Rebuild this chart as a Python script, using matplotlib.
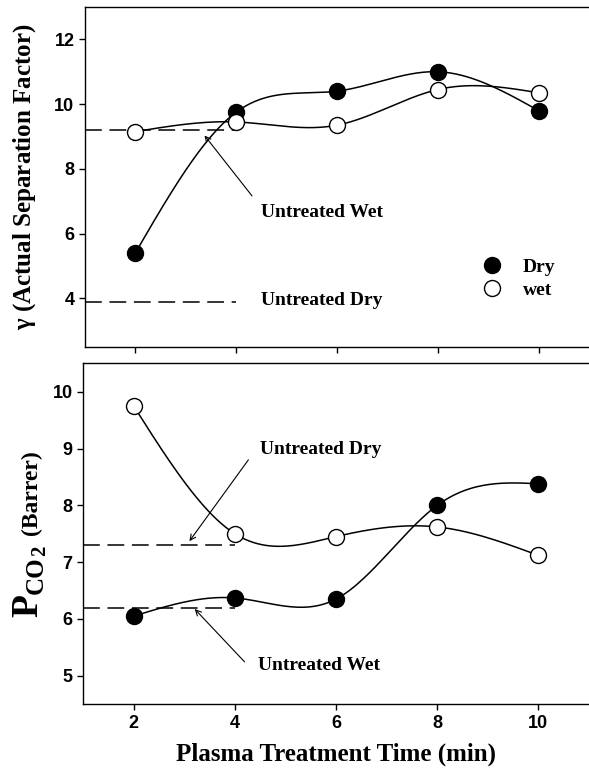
import matplotlib
matplotlib.use('Agg')
import matplotlib.pyplot as plt
import numpy as np

plt.rcParams['font.family'] = ['Liberation Serif', 'DejaVu Serif']
plt.rcParams['mathtext.fontset'] = 'custom'
plt.rcParams['mathtext.rm'] = 'Liberation Serif:bold'
plt.rcParams['mathtext.bf'] = 'Liberation Serif:bold'
plt.rcParams['mathtext.it'] = 'Liberation Serif:bold'

# data
time_min = [2, 4, 6, 8, 10]
gamma_dry = [5.4, 9.75, 10.4, 11.0, 9.8]
gamma_wet = [9.15, 9.45, 9.35, 10.45, 10.35]
gamma_untreated_wet = 9.2
gamma_untreated_dry = 3.9

pco2_dry = [6.05, 6.37, 6.35, 8.0, 8.38]
pco2_wet = [9.75, 7.5, 7.45, 7.62, 7.12]
pco2_untreated_dry = 7.3
pco2_untreated_wet = 6.2

DASH = (0, (11, 5))


def spline(x, y, n=200):
    # natural cubic spline through the points (SigmaPlot-like smooth line)
    x = np.asarray(x, float)
    y = np.asarray(y, float)
    k = len(x)
    h = np.diff(x)
    A = np.zeros((k, k))
    b = np.zeros(k)
    A[0, 0] = A[-1, -1] = 1
    for i in range(1, k - 1):
        A[i, i - 1] = h[i - 1]
        A[i, i] = 2 * (h[i - 1] + h[i])
        A[i, i + 1] = h[i]
        b[i] = 6 * ((y[i + 1] - y[i]) / h[i] - (y[i] - y[i - 1]) / h[i - 1])
    m = np.linalg.solve(A, b)
    xs = np.linspace(x[0], x[-1], n)
    idx = np.clip(np.searchsorted(x, xs) - 1, 0, k - 2)
    x0, x1 = x[idx], x[idx + 1]
    hh = x1 - x0
    t0, t1 = x1 - xs, xs - x0
    ys = (m[idx] * t0 ** 3 + m[idx + 1] * t1 ** 3) / (6 * hh) \
        + (y[idx] / hh - m[idx] * hh / 6) * t0 + (y[idx + 1] / hh - m[idx + 1] * hh / 6) * t1
    return xs, ys


def style_axes(ax):
    ax.spines['right'].set_visible(False)
    for s in ['left', 'bottom', 'top']:
        ax.spines[s].set_linewidth(1.0)
    ax.tick_params(direction='out', length=4, width=1)
    ax.set_xlim(1, 11)
    ax.set_xticks([2, 4, 6, 8, 10])


def draw_series(ax, x, y, filled, label):
    xs, ys = spline(x, y)
    ax.plot(xs, ys, color='black', linewidth=1.1, zorder=2)
    ax.plot(x, y, linestyle='none', marker='o', markersize=11.5,
            markerfacecolor='black' if filled else 'white',
            markeredgecolor='black', markeredgewidth=1.0, zorder=3, label=label)


def annotate(ax, text, xy, xytext, textpos):
    ax.annotate('', xy=xy, xytext=xytext,
                arrowprops=dict(arrowstyle='->', color='black', linewidth=0.8))
    ax.text(textpos[0], textpos[1], text, fontsize=14, fontweight='bold', ha='left', va='center')


fig = plt.figure(figsize=(5.89, 7.73), dpi=100)
ax1 = fig.add_axes([0.144, 0.551, 0.856, 0.44])
ax2 = fig.add_axes([0.141, 0.089, 0.859, 0.441])

# top panel: separation factor
style_axes(ax1)
ax1.set_ylim(2.5, 13)
ax1.set_yticks([4, 6, 8, 10, 12])
ax1.set_xticklabels([])
ax1.hlines(gamma_untreated_wet, 1, 4, colors='black', linestyles=DASH, linewidth=1.1)
ax1.hlines(gamma_untreated_dry, 1, 4, colors='black', linestyles=DASH, linewidth=1.1)
draw_series(ax1, time_min, gamma_dry, True, 'Dry')
draw_series(ax1, time_min, gamma_wet, False, 'wet')
annotate(ax1, 'Untreated Wet', (3.34, 9.1), (4.35, 7.1), (4.5, 6.65))
ax1.text(4.5, 3.95, 'Untreated Dry', fontsize=14, fontweight='bold', ha='left', va='center')
ax1.set_ylabel(r'$\gamma$ (Actual Separation Factor)', fontsize=18, fontweight='bold')
ax1.yaxis.set_label_coords(-0.093, 0.5)
ax1.legend(loc='upper left', bbox_to_anchor=(0.784, 0.262), frameon=False,
           prop=dict(family='Liberation Serif', weight='bold', size=14),
           handletextpad=1.0, labelspacing=0.3, borderpad=0, borderaxespad=0, handlelength=1.2)

# bottom panel: CO2 permeability
style_axes(ax2)
ax2.set_ylim(4.5, 10.5)
ax2.set_yticks([5, 6, 7, 8, 9, 10])
ax2.hlines(pco2_untreated_dry, 1, 4, colors='black', linestyles=DASH, linewidth=1.1)
ax2.hlines(pco2_untreated_wet, 1, 4, colors='black', linestyles=DASH, linewidth=1.1)
draw_series(ax2, time_min, pco2_wet, False, 'wet')
draw_series(ax2, time_min, pco2_dry, True, 'Dry')
annotate(ax2, 'Untreated Dry', (3.07, 7.33), (4.3, 8.84), (4.49, 8.98))
annotate(ax2, 'Untreated Wet', (3.17, 6.21), (4.23, 5.21), (4.45, 5.18))
ax2.set_xlabel('Plasma Treatment Time (min)', fontsize=18, fontweight='bold', labelpad=8)

for ax in (ax1, ax2):
    for lbl in ax.get_yticklabels() + ax.get_xticklabels():
        lbl.set_fontfamily('Liberation Sans')
        lbl.set_fontweight('bold')
        lbl.set_fontsize(13)

# bottom y label "P_CO2 (Barrer)" built from pieces (big P, subscript CO, lower 2)
renderer = fig.canvas.get_renderer()
W, H = fig.bbox.width, fig.bbox.height
base_x = 37.0      # baseline, pixels from left
y_cursor = 156.0   # pixels from bottom
pieces = [('P', 27, 0), ('CO', 18, 6), ('2', 15, 8), ('  ', 16, 0), ('(Barrer)', 17, 0)]
for txt, size, drop in pieces:
    t = fig.text((base_x + drop) / W, y_cursor / H, txt, rotation=90, rotation_mode='anchor',
                 ha='left', va='baseline', fontsize=size, fontweight='bold',
                 family='Liberation Serif')
    ext = t.get_window_extent(renderer)
    y_cursor += ext.height

fig.savefig('out.png', dpi=100)
